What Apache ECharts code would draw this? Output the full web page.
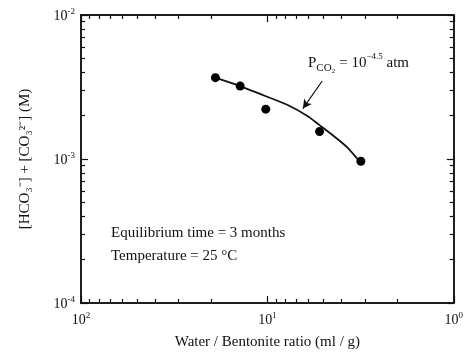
<!DOCTYPE html>
<html>
<head>
<meta charset="utf-8">
<script src="https://cdn.jsdelivr.net/npm/echarts@6/dist/echarts.min.js"></script>
<style>
  html, body { margin: 0; padding: 0; background: #fff; }
  #chart { width: 466px; height: 355px; }
</style>
</head>
<body>
<div id="chart"></div>
<script>
// measured points (water/bentonite ratio, total carbonate)
const ratioPoints = [19.0, 14.0, 10.2, 5.25, 3.15];
const concPoints = [3.67e-3, 3.21e-3, 2.22e-3, 1.55e-3, 9.65e-4];

// model curve, PCO2 = 10^-4.5 atm
const curveRatio = [19.05, 14.05, 10.35, 7.78, 6.10, 5.27, 4.49, 3.74, 3.11];
const curveConc = [3.67e-3, 3.21e-3, 2.75e-3, 2.37e-3, 1.99e-3, 1.726e-3, 1.473e-3, 1.209e-3, 9.17e-4];

// arrow from the label to the curve
const arrowFrom = [5.08, 3.48e-3];
const arrowTo = [6.45, 2.24e-3];

// tick values
const xMajorTicks = [1, 10, 100];
const xMinorTicks = [2, 3, 4, 5, 6, 7, 8, 9, 20, 30, 40, 50, 60, 70, 80, 90];
const yMajorTicks = [1e-4, 1e-3, 1e-2];
const yMinorTicks = [2e-4, 3e-4, 4e-4, 5e-4, 6e-4, 7e-4, 8e-4, 9e-4,
                     2e-3, 3e-3, 4e-3, 5e-3, 6e-3, 7e-3, 8e-3, 9e-3];

const serif = 'Liberation Serif';
const powRich = {
    b: { fontFamily: serif, fontSize: 14, color: '#111', verticalAlign: 'bottom', lineHeight: 16 },
    s: { fontFamily: serif, fontSize: 9, color: '#111', verticalAlign: 'top', lineHeight: 16 }
};
const powLabel = (v) => '{b|10}{s|' + Math.round(Math.log10(v)) + '}';

function makeAxis(kind, pos, ticks, len, withLabel) {
    const isX = kind === 'x';
    const axis = {
        type: 'log',
        logBase: 10,
        position: pos,
        min: isX ? 1 : 1e-4,
        max: isX ? 100 : 1e-2,
        inverse: isX,
        axisLine: { show: true, lineStyle: { color: '#111', width: 1.5 } },
        axisTick: { show: true, inside: true, length: len, customValues: ticks,
                    lineStyle: { color: '#111', width: 1.2 } },
        axisLabel: { show: false },
        splitLine: { show: false },
        minorTick: { show: false },
        z: 5
    };
    if (withLabel) {
        axis.axisLabel = {
            show: true, customValues: ticks, formatter: powLabel,
            rich: powRich, margin: isX ? 8 : 6
        };
    }
    return axis;
}

const xAxes = [
    makeAxis('x', 'bottom', xMajorTicks, 7, true),
    makeAxis('x', 'bottom', xMinorTicks, 4, false),
    makeAxis('x', 'top', xMajorTicks, 7, false),
    makeAxis('x', 'top', xMinorTicks, 4, false)
];
xAxes[0].name = 'Water / Bentonite ratio (ml / g)';
xAxes[0].nameLocation = 'middle';
xAxes[0].nameGap = 32;
xAxes[0].nameTextStyle = { fontFamily: serif, fontSize: 15, color: '#111' };

const yAxes = [
    makeAxis('y', 'left', yMajorTicks, 7, true),
    makeAxis('y', 'left', yMinorTicks, 4, false),
    makeAxis('y', 'right', yMajorTicks, 7, false),
    makeAxis('y', 'right', yMinorTicks, 4, false)
];
yAxes[0].name = '[HCO₃⁻] + [CO₃²⁻] (M)';
yAxes[0].nameLocation = 'middle';
yAxes[0].nameRotate = 90;
yAxes[0].nameGap = 48;
yAxes[0].nameTextStyle = { fontFamily: serif, fontSize: 15, color: '#111' };

const chart = echarts.init(document.getElementById('chart'));
chart.setOption({
    animation: false,
    backgroundColor: '#fff',
    grid: { left: 81, right: 8, top: 15, bottom: 49 },
    xAxis: xAxes,
    yAxis: yAxes,
    series: [
        {
            type: 'line',
            smooth: 0.3,
            showSymbol: false,
            data: curveRatio.map((r, i) => [r, curveConc[i]]),
            lineStyle: { color: '#111', width: 1.8 },
            markLine: {
                silent: true,
                symbol: ['none', 'arrow'],
                symbolSize: [7, 9],
                label: { show: false },
                lineStyle: { color: '#111', width: 1.2, type: 'solid' },
                data: [[{ coord: arrowFrom }, { coord: arrowTo }]]
            }
        },
        {
            type: 'scatter',
            data: ratioPoints.map((r, i) => [r, concPoints[i]]),
            symbol: 'circle',
            symbolSize: 9,
            itemStyle: { color: '#000', opacity: 1 },
            z: 4
        }
    ],
    graphic: [
        {
            type: 'text', left: 308, top: 52,
            style: {
                text: '{t|P}{sub|CO₂}{t| = 10}{sup|−4.5}{t| atm}',
                rich: {
                    t: { fontFamily: serif, fontSize: 15, fill: '#111', lineHeight: 22, verticalAlign: 'middle' },
                    sub: { fontFamily: serif, fontSize: 11, fill: '#111', lineHeight: 22, verticalAlign: 'bottom' },
                    sup: { fontFamily: serif, fontSize: 9, fill: '#111', lineHeight: 22, verticalAlign: 'top' }
                }
            }
        },
        {
            type: 'text', left: 111, top: 226,
            style: { text: 'Equilibrium time = 3 months', font: '15px "Liberation Serif"', fill: '#111' }
        },
        {
            type: 'text', left: 111, top: 249,
            style: { text: 'Temperature = 25 °C', font: '15px "Liberation Serif"', fill: '#111' }
        }
    ]
});
</script>
</body>
</html>
